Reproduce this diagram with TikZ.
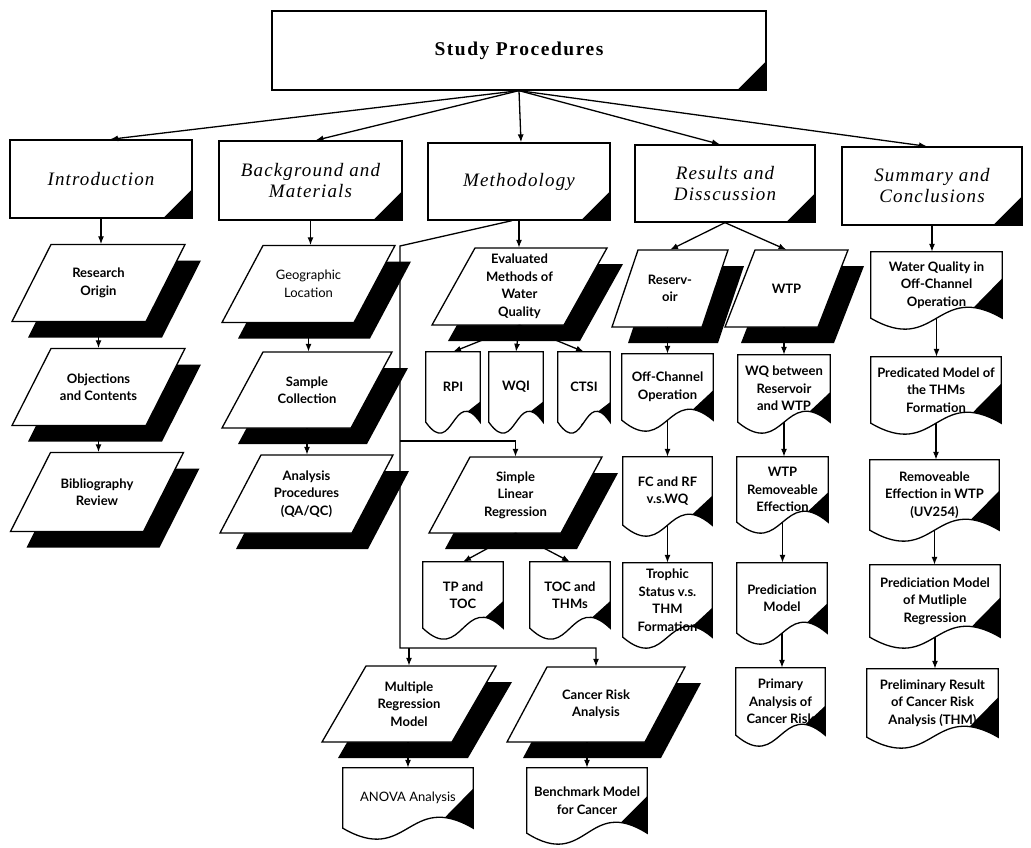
\documentclass[tikz,border=0pt]{standalone}
\usepackage{fontspec}
\setmainfont{Liberation Serif}
\newfontfamily\titlefont[LetterSpace=8]{Liberation Serif}
\newfontfamily\secfont[LetterSpace=6]{Liberation Serif}
\newfontfamily\innerfont{Lato}
\usetikzlibrary{arrows.meta,calc}

\tikzset{
  ln/.style={line width=1.3pt},
  arr/.style={ln,-{Latex[length=8pt,width=6pt]}},
  topbox/.style={draw,ln,inner sep=0pt,align=center,font=\titlefont\bfseries\fontsize{19.5}{22}\selectfont},
  secbox/.style={draw,ln,inner sep=0pt,align=center,font=\secfont\itshape\fontsize{19}{21}\selectfont},
  txt/.style={inner sep=0pt,align=center,font=\innerfont\bfseries\fontsize{13}{17.5}\selectfont},
}

\newcommand\tri[1]{\fill ([xshift=-30pt]#1.south east) -- (#1.south east) -- ([yshift=30pt]#1.south east) -- cycle;}

\newcommand\para[7]{%
  \begin{scope}[shift={(#2,#3)}]
    \pgfmathsetmacro\hw{#4/2}\pgfmathsetmacro\hh{#5/2}
    \fill[black] (-\hw+#6+16,-\hh+16) -- (\hw+16,-\hh+16) -- (\hw-#6+16,\hh+16) -- (-\hw+16,\hh+16) -- cycle;
    \filldraw[fill=white,ln] (-\hw+#6,-\hh) -- (\hw,-\hh) -- (\hw-#6,\hh) -- (-\hw,\hh) -- cycle;
  \end{scope}
  \node[txt,minimum width=#4pt,minimum height=#5pt] (#1) at (#2,#3) {#7};
}

\newcommand\doc[6]{%
  \node[txt,minimum width=#4pt,minimum height=#5pt] (#1) at (#2,#3) {#6};
  \begin{scope}
    \clip let \p1=(#1.south west), \p2=(#1.north east), \n1={\x2-\x1} in
      (\x1,\y2) -- (\x2,\y2) -- (\x2,\y1)
      .. controls (\x1+0.5*\n1,\y1+38pt) and (\x1+0.5*\n1,\y1-38pt) .. (\x1,\y1) -- cycle;
    \fill let \p1=(#1.south west), \p2=(#1.north east), \n1={\x2-\x1} in
      (\x2,\y1+0.25*\n1+7pt) -- (\x2-0.4*\n1-8pt,\y1-0.25*\n1+11pt) -- (\x2+2pt,\y1-40pt) -- cycle;
  \end{scope}
  \draw[ln] let \p1=(#1.south west), \p2=(#1.north east), \n1={\x2-\x1} in
      (\x1,\y2) -- (\x2,\y2) -- (\x2,\y1)
      .. controls (\x1+0.5*\n1,\y1+38pt) and (\x1+0.5*\n1,\y1-38pt) .. (\x1,\y1) -- cycle;
}

\begin{document}
\begin{tikzpicture}[x=1pt,y=-1pt]
\fill[white] (0,0) rectangle (1031,848);
\useasboundingbox (0,0) rectangle (1031,848);

% top box
\node[topbox,minimum width=494pt,minimum height=79pt] (sp) at (519,50.5) {Study Procedures};
\tri{sp}

% section boxes
\node[secbox,minimum width=182pt,minimum height=78pt] (intro) at (101,179) {Introduction};
\node[secbox,minimum width=183pt,minimum height=79pt] (bg) at (310.5,180.5) {Background and\\Materials};
\node[secbox,minimum width=182pt,minimum height=77pt] (meth) at (519,181.5) {Methodology};
\node[secbox,minimum width=180pt,minimum height=77pt] (res) at (725,183.5) {Results and\\Disscussion};
\node[secbox,minimum width=180pt,minimum height=78pt] (sum) at (932,186) {Summary and\\Conclusions};
\foreach \n in {intro,bg,meth,res,sum}{\tri{\n}}

% parallelograms
\para{ro}{98.5}{283}{173}{77}{39}{Research\\Origin}
\para{oc}{98.5}{387}{173}{77}{39}{Objections\\and Contents}
\para{br}{97}{492}{173}{79}{40}{Bibliography\\Review}
\para{gl}{308.5}{284}{173}{77}{41}{\mdseries Geographic\\\mdseries Location}
\para{sc}{307}{390}{170}{76}{41}{Sample\\Collection}
\para{ap}{306.5}{494}{173}{78}{41}{Analysis\\Procedures\\(QA/QC)}
\para{em}{519.5}{286.5}{175}{77}{43}{Evaluated\\Methods of\\Water\\Quality}
\para{rsv}{670}{288.5}{116}{77}{26}{Reserv-\\oir}
\para{wtp}{786.5}{288.5}{123}{77}{30}{WTP}
\para{slr}{515.5}{495}{173}{76}{41}{Simple\\Linear\\Regression}
\para{mrm}{409}{704}{174}{76}{44}{Multiple\\Regression\\Model}
\para{cra}{596}{704.5}{178}{75}{40}{Cancer Risk\\Analysis}

% documents
\doc{rpi}{453}{387}{54}{70}{RPI}
\doc{wqi}{516}{387}{54}{70}{WQI}
\doc{ctsi}{584}{387}{52}{70}{CTSI}
\doc{och}{667.5}{387}{91}{66}{Off-Channel\\Operation}
\doc{fcrf}{667.5}{491}{89}{68}{FC and RF\\v.s.WQ}
\doc{tro}{667.5}{600}{89}{74}{Trophic\\Status v.s.\\THM\\Formation}
\doc{wqb}{784}{388.5}{92}{67}{WQ between\\Reservoir\\and WTP}
\doc{wre}{782.5}{489.5}{91}{65}{WTP\\Removeable\\Effection}
\doc{pm}{782}{598}{90}{70}{Prediciation\\Model}
\doc{pa}{780.5}{701.5}{89}{67}{Primary\\Analysis of\\Cancer Risk}
\doc{wqo}{936.5}{285}{131}{66}{Water Quality in\\Off-Channel\\Operation}
\doc{pmt}{936}{390}{130}{66}{Predicated Model of\\the THMs\\Formation}
\doc{ree}{934.5}{495}{129}{70}{Removeable\\Effection in WTP\\(UV254)}
\doc{pmm}{935}{601}{130}{72}{Prediciation Model\\of Mutliple\\Regression}
\doc{prr}{932.5}{703}{131}{68}{Preliminary Result\\of Cancer Risk\\Analysis (THM)}
\doc{tp}{463}{595}{80}{66}{TP and\\TOC}
\doc{tocth}{570}{595}{80}{66}{TOC and\\THMs}
\doc{anova}{408}{798}{130}{60}{\mdseries ANOVA Analysis}
\doc{bench}{587}{800.5}{120}{65}{Benchmark Model\\for Cancer}

% connectors from top
\draw[arr] (sp.south) -- ([xshift=9pt]intro.north);
\draw[arr] (sp.south) -- ([xshift=5pt]bg.north);
\draw[arr] (sp.south) -- ([xshift=2pt]meth.north);
\draw[arr] (sp.south) -- ([xshift=-5pt]res.north);
\draw[arr] (sp.south) -- ([xshift=-5pt]sum.north);

% introduction column
\draw[arr] (intro.south) -- (intro.south |- ro.north);
\draw[arr] (ro.south) -- (ro.south |- oc.north);
\draw[arr] (oc.south) -- (oc.south |- br.north);

% background column
\draw[arr] (bg.south) -- (bg.south |- gl.north);
\draw[arr] (gl.south) -- (gl.south |- sc.north);
\draw[arr] (sc.south) -- (sc.south |- ap.north);

% methodology column
\coordinate (mpt) at ([xshift=-7pt]meth.south);
\coordinate (bt) at (400,246);
\coordinate (bm) at (400,441);
\coordinate (bb) at (400,648);
\draw[arr] (meth.south) -- (meth.south |- em.north);
\draw[arr] (mpt) -- (bt) -- (bb) -| (cra.north);
\draw[arr] (bm) -| (slr.north);
\draw[arr] (bb -| mrm.north) -- (mrm.north);
\draw[arr] (em.south) -- (rpi.north);
\draw[arr] (em.south) -- (wqi.north);
\draw[arr] (em.south) -- (ctsi.north);
\draw[arr] (slr.south) -- (tp.north);
\draw[arr] (slr.south) -- (tocth.north);
\draw[arr] (anova.north |- mrm.south) -- (anova.north);
\draw[arr] (bench.north |- cra.south) -- (bench.north);

% results column
\draw[arr] (res.south) -- (rsv.north);
\draw[arr] (res.south) -- (wtp.north);
\draw[arr] (och.north |- rsv.south) -- (och.north);
\draw[arr] (och.south) -- (och.south |- fcrf.north);
\draw[arr] (fcrf.south) -- (fcrf.south |- tro.north);
\draw[arr] (wqb.north |- wtp.south) -- (wqb.north);
\draw[arr] (wqb.south) -- (wqb.south |- wre.north);
\draw[arr] (wre.south) -- (wre.south |- pm.north);
\draw[arr] (pm.south) -- (pm.south |- pa.north);

% summary column
\draw[arr] (sum.south) -- (sum.south |- wqo.north);
\draw[arr] (wqo.south) -- (wqo.south |- pmt.north);
\draw[arr] (pmt.south) -- (pmt.south |- ree.north);
\draw[arr] (ree.south) -- (ree.south |- pmm.north);
\draw[arr] (pmm.south) -- (pmm.south |- prr.north);
\end{tikzpicture}
\end{document}
